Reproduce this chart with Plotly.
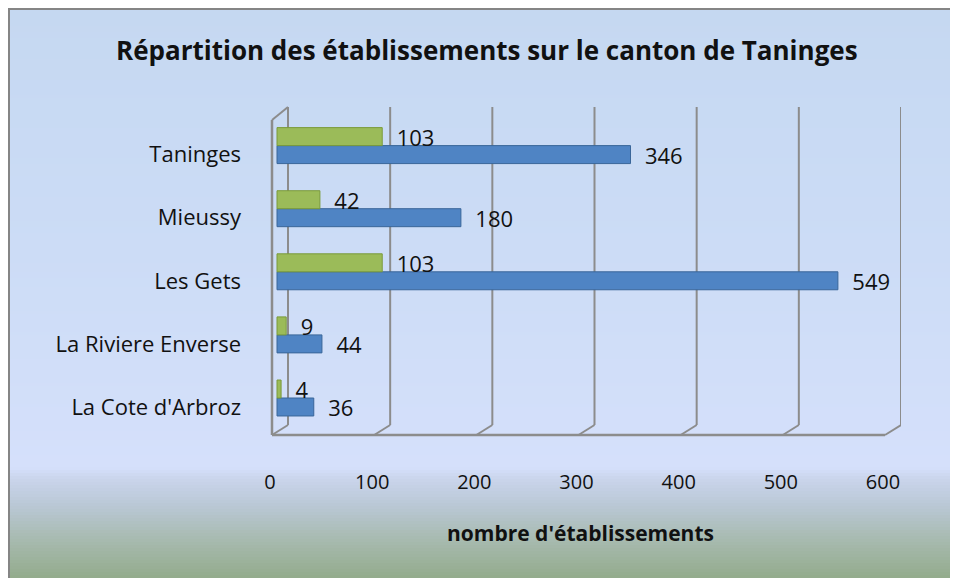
import plotly.graph_objects as go
import numpy as np

# ---------------- data ----------------
categories = ["La Cote d'Arbroz", "La Riviere Enverse", "Les Gets", "Mieussy", "Taninges"]
series_blue = [36, 44, 549, 180, 346]
series_green = [4, 9, 103, 42, 103]
x_ticks = [0, 100, 200, 300, 400, 500, 600]
x_tick_labels = ["0", "100", "200", "300", "400", "500", "600"]
title_text = "Répartition des établissements sur le canton de Taninges"
x_title_text = "nombre d'établissements"

# ---------------- geometry (page pixels) ----------------
OFF = 8                     # page body margin
PW, PH = 958, 578           # page size
W, H = PW - OFF, PH - OFF   # figure size
L, R = 270, 901             # plot area left / right (page px)
T, B = 107, 435             # plot area top / bottom (page px)
K = (883 - 270) / 600.0     # px per unit
BAR0 = 277                  # pixel of the bars' zero
FRONT0 = 270                # front-plane zero (tick labels)
BACK0 = 288                 # back wall zero (gridlines)
DEPTH_Y = 10
RIGHT_EDGE = OFF + W        # page px of figure right edge
BOTTOM_EDGE = OFF + H


def vx(px):
    return (px - BAR0) / K


def xp(px):
    return (px - L) / (R - L)


def yp(py):
    return (B - py) / (B - T)


FONT = "Open Sans, Lato, sans-serif"
GRID = "#8C8C8C"

fig = go.Figure()

fig.add_trace(go.Bar(
    y=categories, x=series_blue, orientation="h", name="blue",
    marker=dict(color="#4F84C4", line=dict(color="#3A6699", width=1)),
    text=[str(v) for v in series_blue], texttemplate="  %{text}",
    textposition="outside", cliponaxis=False,
    textfont=dict(family=FONT, size=22, color="#111111"),
))
fig.add_trace(go.Bar(
    y=categories, x=series_green, orientation="h", name="green",
    marker=dict(color="#9BBB59", line=dict(color="#7A9A3A", width=1)),
    text=[str(v) for v in series_green], texttemplate="  %{text}",
    textposition="outside", cliponaxis=False,
    textfont=dict(family=FONT, size=22, color="#111111"),
))

shapes = []

# background gradient (bands)
stops = [(8, "#C5D8F1"), (250, "#CCDCF6"), (468, "#D5E0FB"), (478, "#CAD5EC"),
         (505, "#BAC8D6"), (540, "#A7BAAF"), (578, "#93AB8C")]


def hex2rgb(h):
    h = h.lstrip("#")
    return np.array([int(h[i:i + 2], 16) for i in (0, 2, 4)], dtype=float)


sp = np.array([s[0] for s in stops], dtype=float)
sc = np.array([hex2rgb(s[1]) for s in stops])
edges = np.arange(8, BOTTOM_EDGE + 1, 3)
for i in range(len(edges) - 1):
    y0, y1 = edges[i], min(edges[i + 1] + 0.5, BOTTOM_EDGE)
    mid = (edges[i] + edges[i + 1]) / 2
    c = [np.interp(mid, sp, sc[:, j]) for j in range(3)]
    shapes.append(dict(type="rect", xref="paper", yref="paper", layer="below",
                       x0=xp(OFF), x1=xp(RIGHT_EDGE), y0=yp(y0), y1=yp(y1),
                       fillcolor="rgb(%d,%d,%d)" % tuple(int(round(v)) for v in c),
                       line=dict(width=0)))

# frame
shapes.append(dict(type="line", xref="paper", yref="paper", layer="below",
                   x0=xp(OFF), x1=xp(RIGHT_EDGE), y0=yp(8.5), y1=yp(8.5),
                   line=dict(color="#858585", width=3)))
shapes.append(dict(type="line", xref="paper", yref="paper", layer="below",
                   x0=xp(8.5), x1=xp(8.5), y0=yp(OFF), y1=yp(BOTTOM_EDGE),
                   line=dict(color="#858585", width=3)))

# back wall gridlines + floor diagonals
off_back = (BACK0 - BAR0) / K
off_front = (FRONT0 - BAR0) / K
for t in x_ticks:
    shapes.append(dict(type="line", xref="x", yref="paper", layer="below",
                       x0=t + off_back, x1=t + off_back, y0=yp(B - DEPTH_Y), y1=yp(T),
                       line=dict(color=GRID, width=2)))
    shapes.append(dict(type="line", xref="x", yref="paper", layer="below",
                       x0=t + off_back, x1=t + off_back - 16 / K,
                       y0=yp(B - DEPTH_Y), y1=yp(B),
                       line=dict(color=GRID, width=2)))
# floor front edge
shapes.append(dict(type="line", xref="x", yref="paper", layer="below",
                   x0=vx(272), x1=x_ticks[-1] + off_back - 16 / K, y0=yp(B), y1=yp(B),
                   line=dict(color=GRID, width=2.5)))
# left wall
shapes.append(dict(type="line", xref="x", yref="paper", layer="below",
                   x0=vx(272), x1=vx(272), y0=yp(B), y1=yp(T + 13),
                   line=dict(color=GRID, width=2.5)))
shapes.append(dict(type="line", xref="x", yref="paper", layer="below",
                   x0=vx(272), x1=vx(288), y0=yp(T + 13), y1=yp(T),
                   line=dict(color=GRID, width=2)))

annotations = [
    dict(text="<b>" + title_text + "</b>", xref="paper", yref="paper",
         x=xp(487), y=yp(50), xanchor="center", yanchor="middle", showarrow=False,
         font=dict(family=FONT, size=26, color="#111111")),
    dict(text="<b>" + x_title_text + "</b>", xref="paper", yref="paper",
         x=xp(580), y=yp(533), xanchor="center", yanchor="middle", showarrow=False,
         font=dict(family=FONT, size=21, color="#111111")),
]

fig.update_layout(
    width=W, height=H,
    margin=dict(l=L - OFF, r=W - (R - OFF), t=T - OFF, b=H - (B - OFF), pad=0),
    paper_bgcolor="#CDDCF6", plot_bgcolor="rgba(0,0,0,0)",
    barmode="group", bargap=0.43, bargroupgap=0.0,
    showlegend=False,
    shapes=shapes, annotations=annotations,
    font=dict(family=FONT, color="#111111"),
    xaxis=dict(range=[vx(L), vx(R)], showgrid=False, zeroline=False, showline=False,
               tickmode="array", tickvals=[t + off_front for t in x_ticks],
               ticktext=x_tick_labels, ticks="", ticklabelstandoff=33,
               tickfont=dict(family=FONT, size=20, color="#111111")),
    yaxis=dict(type="category", range=[(398 - B) / 63.1, (398 - T) / 63.1],
               showgrid=False, zeroline=False, showline=False, ticks="",
               ticklabelshift=9, ticklabelstandoff=28,
               tickfont=dict(family=FONT, size=22, color="#111111")),
)
fig.update_traces(constraintext="none")

fig.write_html("out.html")
